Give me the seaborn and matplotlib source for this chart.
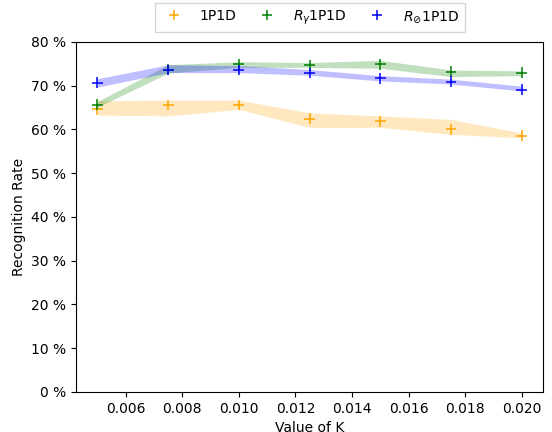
import numpy as np
import pandas as pd
import seaborn as sns
import matplotlib.pyplot as plt
from matplotlib.ticker import FuncFormatter

k_values = [0.005, 0.0075, 0.01, 0.0125, 0.015, 0.0175, 0.02]

rate_1p1d = [64.6, 65.6, 65.6, 62.5, 61.9, 60.0, 58.6]
low_1p1d = [63.3, 63.1, 64.6, 60.5, 60.5, 58.9, 58.1]
high_1p1d = [66.6, 66.7, 66.7, 63.8, 63.1, 62.3, 59.2]

rate_rg = [65.7, 73.7, 74.9, 74.7, 74.9, 73.2, 73.0]
low_rg = [65.1, 72.9, 74.2, 74.2, 74.0, 72.1, 72.3]
high_rg = [66.4, 74.8, 75.5, 75.3, 75.8, 73.6, 73.4]

rate_ro = [70.7, 73.6, 73.6, 72.9, 71.7, 70.9, 69.1]
low_ro = [69.7, 73.0, 73.0, 72.4, 71.1, 70.4, 68.8]
high_ro = [71.6, 74.8, 74.6, 73.7, 72.3, 71.5, 69.9]

labels = ["1P1D", r"$R_\gamma$1P1D", r"$R_{⊘}$1P1D"]
colors = ["orange", "green", "blue"]

plt.rcParams["font.family"] = ["DejaVu Sans"]

rates = [rate_1p1d, rate_rg, rate_ro]
lows = [low_1p1d, low_rg, low_ro]
highs = [high_1p1d, high_rg, high_ro]

df = pd.concat([pd.DataFrame({"K": k_values, "rate": r, "method": lab})
                for r, lab in zip(rates, labels)], ignore_index=True)

fig = plt.figure(figsize=(5.52, 4.32), dpi=100)
ax = fig.add_axes([0.138, 0.0926, 0.8457, 0.8102])

for lo, hi, c in zip(lows, highs, colors):
    ax.fill_between(k_values, lo, hi, color=c, alpha=0.25, linewidth=0)

sns.scatterplot(data=df, x="K", y="rate", hue="method", palette=colors,
                marker="+", s=60, linewidth=1.1, ax=ax, zorder=3)

ax.set_ylim(0, 80)
ax.set_yticks(np.arange(0, 81, 10))
ax.yaxis.set_major_formatter(FuncFormatter(lambda v, p: f"{v:.0f} %"))
ax.set_xticks([0.006, 0.008, 0.010, 0.012, 0.014, 0.016, 0.018, 0.020])
ax.xaxis.set_major_formatter(FuncFormatter(lambda v, p: f"{v:.3f}"))
ax.set_xlabel("Value of K")
ax.set_ylabel("Recognition Rate")

sns.move_legend(ax, "lower center", bbox_to_anchor=(0.5, 1.008), ncol=3,
                title=None, frameon=True, handletextpad=0.85, columnspacing=1.2,
                fancybox=False, edgecolor="#cccccc")

fig.savefig("out.png", dpi=100)
